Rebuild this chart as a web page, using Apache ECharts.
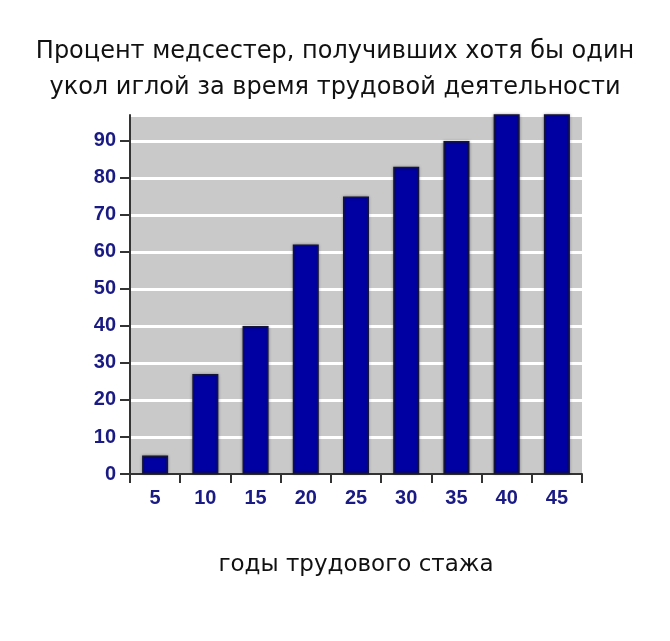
<!DOCTYPE html>
<html lang="ru">
<head>
    <meta charset="UTF-8">
    <title>Уколы иглой</title>
    <style>
        html, body { margin: 0; padding: 0; background: #fff; }
        #main { width: 670px; height: 641px; }
    </style>
</head>
<body>
    <div id="main"></div>
    <script src="https://cdn.jsdelivr.net/npm/echarts@6/dist/echarts.min.js"></script>
    <script type="text/javascript">
        // данные с картинки
        var years = ['5', '10', '15', '20', '25', '30', '35', '40', '45'];
        var percent = [5, 27, 40, 62, 75, 83, 90, 98, 98];
        var titleLines = ['Процент медсестер, получивших хотя бы один', 'укол иглой за время трудовой деятельности'];
        var xName = 'годы трудового стажа';

        var labelColor = '#1a1a84';
        var chart = echarts.init(document.getElementById('main'));

        var option = {
            animation: false,
            title: {
                text: titleLines.join('\n'),
                left: 'center',
                top: 29,
                textStyle: {
                    fontFamily: 'DejaVu Sans',
                    fontWeight: 'normal',
                    fontSize: 24,
                    lineHeight: 36,
                    color: '#111'
                }
            },
            grid: {
                left: 130,
                right: 88,
                top: 115,
                bottom: 167,
                show: true,
                backgroundColor: '#c9c9c9',
                borderWidth: 0
            },
            xAxis: {
                type: 'category',
                data: years,
                name: xName,
                nameLocation: 'middle',
                nameGap: 80,
                nameTextStyle: {
                    fontFamily: 'DejaVu Sans',
                    fontSize: 23,
                    color: '#111'
                },
                axisLine: { lineStyle: { color: '#333', width: 2 } },
                axisTick: { show: true, length: 9, lineStyle: { color: '#333', width: 2 } },
                axisLabel: {
                    margin: 14,
                    color: labelColor,
                    fontFamily: 'Liberation Sans',
                    fontWeight: 'bold',
                    fontSize: 20
                }
            },
            yAxis: {
                type: 'value',
                min: 0,
                max: 97,
                interval: 10,
                axisLine: { show: true, lineStyle: { color: '#333', width: 2 } },
                axisTick: { show: true, length: 10, lineStyle: { color: '#333', width: 2 } },
                axisLabel: {
                    margin: 14,
                    color: labelColor,
                    fontFamily: 'Liberation Sans',
                    fontWeight: 'bold',
                    fontSize: 20,
                    showMaxLabel: false
                },
                splitLine: { lineStyle: { color: '#fff', width: 3 } }
            },
            series: [{
                type: 'bar',
                data: percent,
                barWidth: 26,
                clip: true,
                itemStyle: {
                    color: '#0000a2',
                    borderColor: '#15153a',
                    borderWidth: 1.5,
                    shadowColor: 'rgba(0,0,0,0.35)',
                    shadowBlur: 3
                }
            }]
        };
        chart.setOption(option);
    </script>
</body>
</html>
